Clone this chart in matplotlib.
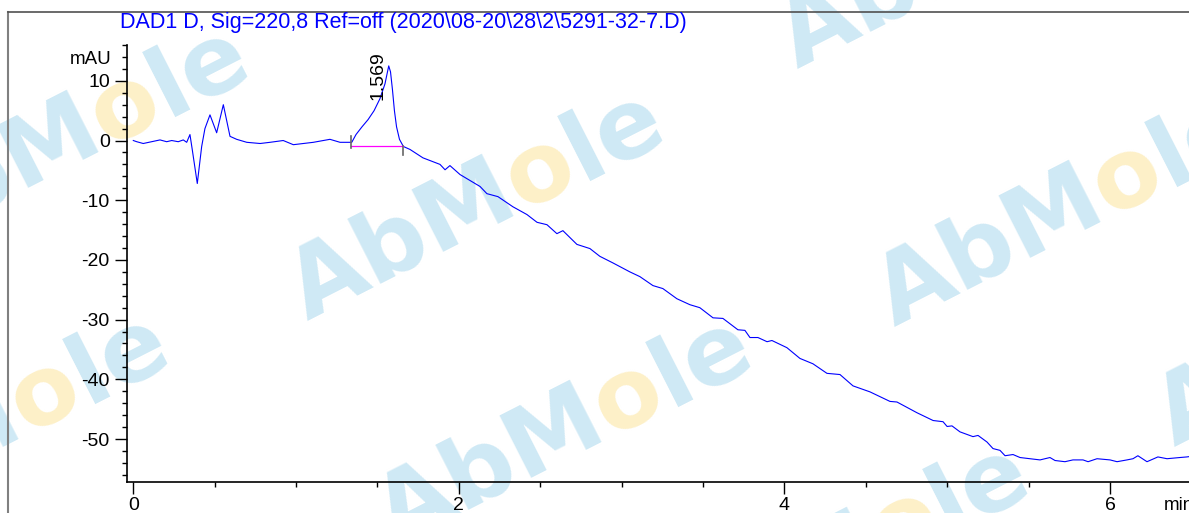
import numpy as np
import matplotlib.pyplot as plt
from matplotlib.lines import Line2D
from matplotlib.ticker import MultipleLocator

plt.rcParams['font.family'] = ['Liberation Sans', 'DejaVu Sans']
plt.rcParams['axes.unicode_minus'] = False

W, H = 1189, 513

TITLE = 'DAD1 D, Sig=220,8 Ref=off (2020\\08-20\\28\\2\\5291-32-7.D)'

# retention time (min) / signal (mAU)
rt_base = [0.000, 0.021, 0.061, 0.164, 0.205, 0.236, 0.276, 0.307, 0.328, 0.348,
           0.362, 0.393, 0.420, 0.440, 0.471, 0.512, 0.553, 0.594, 0.635, 0.697,
           0.779, 0.840, 0.921, 0.983, 1.106, 1.208, 1.270, 1.342]
sig_base = [0.0, -0.2, -0.5, 0.1, -0.2, 0.0, -0.2, 0.1, -0.3, 1.0,
            -1.5, -7.2, -1.0, 2.0, 4.3, 1.3, 6.0, 0.7, 0.2, -0.3,
            -0.5, -0.3, 0.0, -0.7, -0.3, 0.2, -0.3, -0.3]

rt_peak = [1.368, 1.405, 1.442, 1.479, 1.515, 1.546, 1.569, 1.580, 1.592, 1.604,
           1.617, 1.635, 1.659]
sig_peak = [1.0, 2.3, 3.5, 5.0, 7.0, 9.5, 12.5, 11.5, 8.5, 5.0,
            2.3, 0.2, -1.0]

rt_drift = [1.700, 1.779, 1.884, 1.915, 1.945, 2.007, 2.130, 2.172, 2.240, 2.332,
            2.418, 2.480, 2.541, 2.602, 2.639, 2.725, 2.805, 2.866, 2.946, 3.050,
            3.112, 3.192, 3.253, 3.339, 3.419, 3.480, 3.561, 3.622, 3.714, 3.757,
            3.788, 3.837, 3.893, 3.923, 4.015, 4.095, 4.175, 4.261, 4.341, 4.421,
            4.525, 4.648, 4.691, 4.814, 4.913, 4.974, 4.999, 5.029, 5.078, 5.158,
            5.189, 5.244, 5.281, 5.324, 5.355, 5.404, 5.447, 5.508, 5.570, 5.631,
            5.662, 5.723, 5.772, 5.834, 5.865, 5.920, 6.000, 6.043, 6.104, 6.141,
            6.171, 6.227, 6.294, 6.350, 6.429, 6.472, 6.500]
sig_drift = [-1.5, -2.9, -4.0, -4.9, -4.2, -5.7, -7.7, -8.9, -9.4, -11.1,
             -12.4, -13.7, -14.1, -15.6, -15.1, -17.4, -18.1, -19.4, -20.5, -22.0,
             -22.8, -24.3, -24.8, -26.5, -27.5, -28.0, -29.7, -29.8, -31.7, -31.8,
             -33.0, -33.0, -33.7, -33.5, -34.7, -36.5, -37.4, -39.0, -39.2, -41.1,
             -42.1, -43.7, -43.8, -45.6, -46.9, -47.1, -47.9, -47.8, -48.8, -49.6,
             -49.4, -50.5, -51.6, -51.9, -52.8, -52.6, -53.1, -53.3, -53.5, -53.1,
             -53.6, -53.8, -53.5, -53.5, -53.8, -53.3, -53.5, -53.8, -53.5, -53.3,
             -52.8, -53.8, -53.0, -53.3, -53.1, -53.0, -52.9]

PEAK_RT = 1.569
PEAK_LABEL = '1.569'
BASELINE_RT = [1.336, 1.659]
BASELINE_Y = [-1.0, -1.0]

rt = rt_base + rt_peak + rt_drift
signal = sig_base + sig_peak + sig_drift

fig = plt.figure(figsize=(W / 100, H / 100), dpi=100)

# watermark (AbMole logo), drawn behind everything
WM_ANGLE = 27
WM_SIZE = 70
WM_BLUE = '#cfe9f5'
WM_YELLOW = '#fdf0c8'
wm_centers = [(125, 108), (540, 172), (1127, 178), (45, 395),
              (628, 398), (905, 525), (1030, -80), (1407, 298)]

renderer = fig.canvas.get_renderer()
def text_width(s):
    t = fig.text(0, 0, s, fontsize=WM_SIZE, family='DejaVu Sans', weight='bold')
    w = t.get_window_extent(renderer).width
    t.remove()
    return w

w_abm = text_width('AbM')
w_o = text_width('o')
em = WM_SIZE * 100 / 72
th = np.deg2rad(WM_ANGLE)
u = np.array([np.cos(th), np.sin(th)])
n = np.array([-np.sin(th), np.cos(th)])
for cx, cy in wm_centers:
    c = np.array([cx, H - cy])
    o_left = c - u * w_o / 2 - n * 0.28 * em
    for s, p, col in [('AbM', o_left - u * w_abm, WM_BLUE),
                      ('o', o_left, WM_YELLOW),
                      ('le', o_left + u * w_o, WM_BLUE)]:
        fig.text(p[0] / W, p[1] / H, s, fontsize=WM_SIZE, family='DejaVu Sans',
                 weight='bold', color=col, rotation=WM_ANGLE,
                 rotation_mode='anchor', ha='left', va='baseline', zorder=-5)

# report frame
fig.add_artist(Line2D([8 / W, 8 / W], [0, 1 - 12 / H], color='#808080', lw=1.5))
fig.add_artist(Line2D([8 / W, 1], [1 - 12 / H, 1 - 12 / H], color='#505050', lw=1.2))

fig.text(120 / W, 1 - 23 / H, TITLE, color='#0000ff', fontsize=15.5,
         ha='left', va='center')

ax = fig.add_axes([127.3 / W, 31 / H, (W - 127.3) / W, (482 - 45) / H])
ax.patch.set_alpha(0)

ax.plot(rt, signal, color='#0000ff', lw=0.8)
ax.plot(BASELINE_RT, BASELINE_Y, color='#ff00ff', lw=0.9)
ax.plot([BASELINE_RT[0]] * 2, [0.8, -1.2], color='#666666', lw=1.2)
ax.plot([BASELINE_RT[1]] * 2, [-0.9, -2.5], color='#666666', lw=1.2)
ax.text(1.503, 6.8, PEAK_LABEL, rotation=90, ha='center', va='bottom', fontsize=14)

ax.set_xlim(-0.0369, 6.485)
ax.set_ylim(-57.2, 16.0)

ax.xaxis.set_major_locator(MultipleLocator(2))
ax.xaxis.set_minor_locator(MultipleLocator(0.5))
ax.yaxis.set_major_locator(MultipleLocator(10))
ax.yaxis.set_minor_locator(MultipleLocator(2))

ax.spines[['top', 'right']].set_visible(False)
for s in ['left', 'bottom']:
    ax.spines[s].set_linewidth(1.2)

ax.tick_params(which='major', length=8.6, width=1, direction='out', labelsize=14)
ax.tick_params(which='minor', length=3.8, width=1, direction='out')
ax.tick_params(axis='x', which='major', pad=2)
ax.tick_params(axis='y', which='major', pad=4)

ax.annotate('mAU', xy=(0, 13.5), xycoords=('axes fraction', 'data'),
            xytext=(-11, 0), textcoords='offset points',
            ha='right', va='center', fontsize=13.5)
ax.annotate('min', xy=(6.33, 0), xycoords=('data', 'axes fraction'),
            xytext=(0, -11), textcoords='offset points',
            ha='left', va='top', fontsize=13.5)

fig.savefig('out.png', dpi=100)
